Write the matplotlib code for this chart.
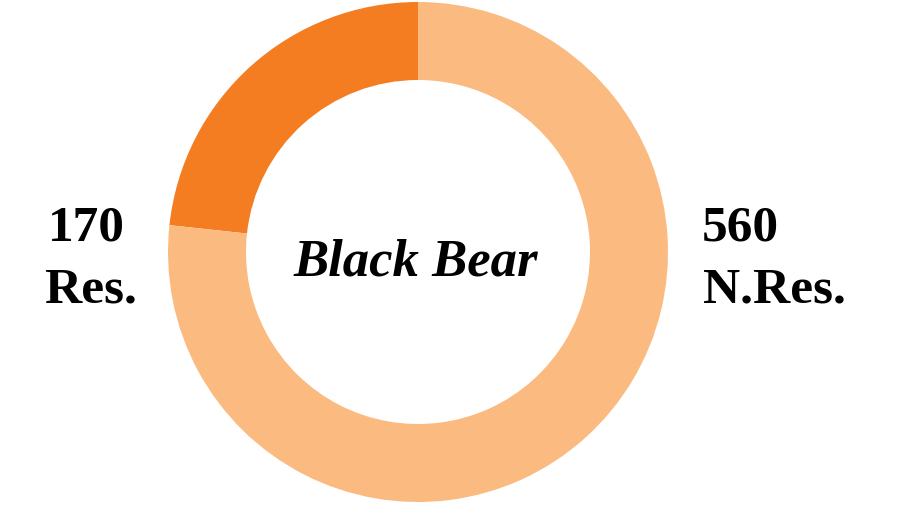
import matplotlib.pyplot as plt

# donut values
labels = ["Res.", "N.Res."]
values = [170, 560]
colors = ["#F47D22", "#FBBA80"]
title = "Black Bear"

fig = plt.figure(figsize=(9.04, 5.16), dpi=100)
ax = fig.add_axes([0, 0, 1, 1])

ax.pie(values, colors=colors, startangle=90, counterclock=True,
       center=(418, 264), radius=250,
       wedgeprops=dict(width=78, edgecolor="none"))
ax.set_xlim(0, 904)
ax.set_ylim(0, 516)
ax.set_aspect("equal")
ax.axis("off")

font = "Liberation Serif"
ax.text(416, 254, title, ha="center", va="center", fontsize=38,
        fontweight="bold", fontstyle="italic", family=font)
ax.text(86, 288, str(values[0]), ha="center", va="center", fontsize=37,
        fontweight="bold", family=font)
ax.text(91, 226, labels[0], ha="center", va="center", fontsize=37,
        fontweight="bold", family=font)
ax.text(740, 288, str(values[1]), ha="center", va="center", fontsize=37,
        fontweight="bold", family=font)
ax.text(774, 226, labels[1], ha="center", va="center", fontsize=37,
        fontweight="bold", family=font)

fig.savefig("out.png", dpi=100)
